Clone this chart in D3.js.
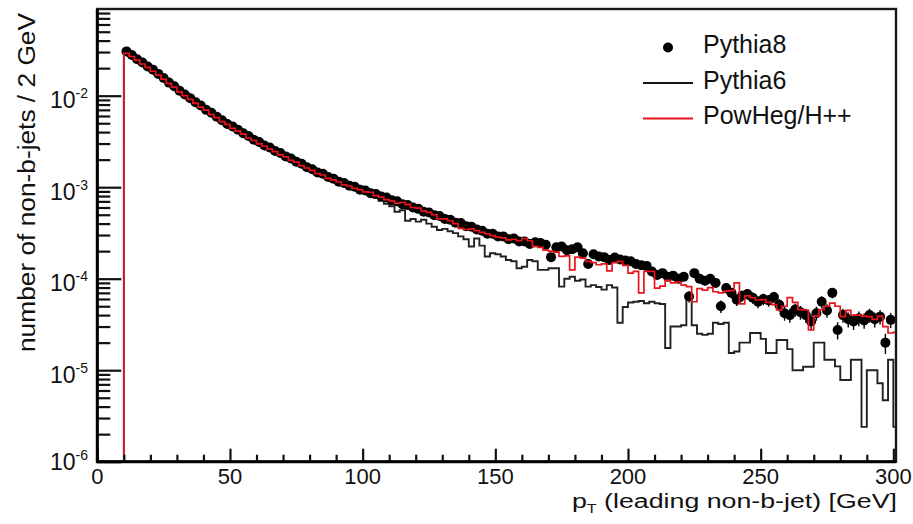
<!DOCTYPE html>
<html><head><meta charset="utf-8">
<script src="https://cdn.jsdelivr.net/npm/d3@7"></script>
<style>
body{margin:0;background:#fff}
svg text{font-family:"Liberation Sans",Arial,Helvetica,sans-serif;fill:#111}
</style>
</head><body>
<svg id="chart" width="913" height="524"></svg>
<script>
// ---- data: 2 GeV bins starting at 10 GeV ----
const binLowEdges = d3.range(10, 302, 2);
const pythia8 = [
3.05e-2,2.78e-2,2.50e-2,2.31e-2,2.08e-2,1.92e-2,1.73e-2,1.56e-2,1.39e-2,1.27e-2,
1.13e-2,1.03e-2,9.4e-3,8.5e-3,7.8e-3,7.0e-3,6.5e-3,5.9e-3,5.4e-3,4.9e-3,
4.6e-3,4.25e-3,3.88e-3,3.62e-3,3.30e-3,3.12e-3,2.86e-3,2.72e-3,2.49e-3,2.36e-3,
2.17e-3,2.06e-3,1.90e-3,1.80e-3,1.65e-3,1.57e-3,1.45e-3,1.40e-3,1.29e-3,1.24e-3,
1.15e-3,1.11e-3,1.04e-3,1.01e-3,9.4e-4,9.2e-4,8.6e-4,8.4e-4,7.9e-4,7.7e-4,
7.2e-4,7.0e-4,6.5e-4,6.4e-4,6.0e-4,5.8e-4,5.4e-4,5.3e-4,4.95e-4,4.85e-4,
4.5e-4,4.4e-4,4.1e-4,4.05e-4,3.75e-4,3.7e-4,3.45e-4,3.35e-4,3.1e-4,3.1e-4,
2.9e-4,2.9e-4,2.7e-4,2.75e-4,2.55e-4,2.55e-4,2.4e-4,2.5e-4,2.45e-4,2.35e-4,
1.72e-4,2.2e-4,2.25e-4,2.05e-4,2.1e-4,2.2e-4,1.9e-4,1.45e-4,1.85e-4,1.75e-4,
1.72e-4,1.6e-4,1.7e-4,1.62e-4,1.58e-4,1.55e-4,1.45e-4,1.4e-4,1.38e-4,1.2e-4,
1.1e-4,1.15e-4,1.05e-4,1.08e-4,1.0e-4,1.05e-4,6.4e-5,1.15e-4,1.0e-4,9.5e-5,
1.0e-4,9.0e-5,5.0e-5,7.9e-5,7.0e-5,5.9e-5,6.5e-5,6.8e-5,6.2e-5,5.6e-5,
6.0e-5,5.8e-5,6.3e-5,5.2e-5,4.2e-5,4.0e-5,4.6e-5,4.3e-5,4.0e-5,3.4e-5,
4.2e-5,5.6e-5,4.5e-5,7.0e-5,2.75e-5,4.0e-5,3.6e-5,3.4e-5,3.7e-5,3.5e-5,
4.0e-5,3.6e-5,3.85e-5,2.0e-5,3.55e-5,3.5e-5];
const pythia6 = [
2.95e-2,2.7e-2,2.48e-2,2.25e-2,2.05e-2,1.88e-2,1.7e-2,1.53e-2,1.38e-2,1.23e-2,
1.12e-2,1.01e-2,9.2e-3,8.4e-3,7.6e-3,6.9e-3,6.3e-3,5.8e-3,5.3e-3,4.8e-3,
4.45e-3,4.15e-3,3.78e-3,3.5e-3,3.2e-3,3.02e-3,2.78e-3,2.63e-3,2.42e-3,2.28e-3,
2.12e-3,1.98e-3,1.85e-3,1.74e-3,1.6e-3,1.52e-3,1.43e-3,1.33e-3,1.27e-3,1.18e-3,
1.12e-3,1.05e-3,1.0e-3,9.6e-4,9.0e-4,8.7e-4,8.2e-4,7.7e-4,7.1e-4,6.6e-4,
6.2e-4,5.4e-4,5.6e-4,4.3e-4,4.5e-4,4.2e-4,4.4e-4,4.0e-4,3.7e-4,3.4e-4,
3.5e-4,3.3e-4,3.15e-4,2.9e-4,2.7e-4,2.25e-4,2.75e-4,2.3e-4,1.75e-4,1.9e-4,
1.85e-4,1.75e-4,1.6e-4,1.55e-4,1.3e-4,1.35e-4,1.6e-4,1.55e-4,1.25e-4,1.25e-4,
1.3e-4,1.3e-4,8.2e-5,1.0e-4,1.05e-4,9.5e-5,9.8e-5,8.2e-5,8.5e-5,8.1e-5,
7.6e-5,8.5e-5,8.0e-5,3.3e-5,4.9e-5,5.5e-5,5.6e-5,5.7e-5,5.4e-5,5.6e-5,
5.4e-5,5.3e-5,1.75e-5,3.0e-5,3.0e-5,3.1e-5,5.85e-5,3.1e-5,2.5e-5,2.43e-5,
2.5e-5,3.3e-5,3.2e-5,3.3e-5,1.54e-5,1.6e-5,2.0e-5,2.0e-5,2.55e-5,2.55e-5,
2.2e-5,1.54e-5,1.54e-5,2.14e-5,2.14e-5,1.7e-5,1.0e-5,1.0e-5,1.09e-5,1.09e-5,
2.0e-5,2.0e-5,1.3e-5,1.3e-5,1.1e-5,7.8e-6,7.8e-6,1.3e-5,1.3e-5,2.4e-6,
1.0e-5,1.0e-5,7.2e-6,4.7e-6,1.3e-5,2.4e-6];
const powhegHpp = [
2.9e-2,2.68e-2,2.45e-2,2.22e-2,2.04e-2,1.85e-2,1.68e-2,1.52e-2,1.36e-2,1.24e-2,
1.10e-2,1.00e-2,9.1e-3,8.3e-3,7.5e-3,6.95e-3,6.2e-3,5.75e-3,5.2e-3,4.85e-3,
4.4e-3,4.1e-3,3.8e-3,3.45e-3,3.25e-3,2.98e-3,2.82e-3,2.6e-3,2.45e-3,2.25e-3,
2.15e-3,1.96e-3,1.88e-3,1.72e-3,1.62e-3,1.53e-3,1.41e-3,1.36e-3,1.25e-3,1.20e-3,
1.14e-3,1.06e-3,1.03e-3,9.7e-4,9.4e-4,8.9e-4,8.8e-4,8.1e-4,7.8e-4,7.3e-4,
7.1e-4,6.7e-4,6.8e-4,6.5e-4,6.0e-4,5.9e-4,5.5e-4,5.3e-4,5.0e-4,4.5e-4,
4.5e-4,4.3e-4,4.0e-4,3.55e-4,3.45e-4,3.5e-4,3.35e-4,3.2e-4,3.1e-4,2.95e-4,
2.85e-4,2.8e-4,2.65e-4,2.7e-4,2.6e-4,2.75e-4,2.6e-4,2.25e-4,2.2e-4,2.05e-4,
2.0e-4,1.95e-4,1.75e-4,1.78e-4,1.25e-4,1.72e-4,1.68e-4,1.55e-4,1.5e-4,1.42e-4,
1.45e-4,1.22e-4,1.5e-4,1.55e-4,1.4e-4,1.15e-4,1.2e-4,7.0e-5,1.2e-4,1.2e-4,
7.9e-5,8.3e-5,9.6e-5,9.0e-5,9.2e-5,8.5e-5,8.2e-5,5.6e-5,7.8e-5,7.5e-5,
8.0e-5,7.2e-5,7.0e-5,7.3e-5,7.4e-5,9.0e-5,5.3e-5,6.5e-5,6.2e-5,5.85e-5,
5.9e-5,5.5e-5,5.2e-5,4.55e-5,5.0e-5,6.2e-5,5.5e-5,4.6e-5,4.55e-5,2.75e-5,
3.9e-5,4.6e-5,5.0e-5,5.4e-5,5.0e-5,3.85e-5,4.5e-5,4.0e-5,4.0e-5,3.9e-5,
3.85e-5,3.6e-5,3.9e-5,3.0e-5,2.55e-5,2.6e-5];
const binWidth = 2;
const xTickValues = [0,50,100,150,200,250,300];
const yDecades = [1e-6,1e-5,1e-4,1e-3,1e-2];
const yDecadeExponents = ["-6","-5","-4","-3","-2"];
const legendLabels = ["Pythia8","Pythia6","PowHeg/H++"];
const xTitleMain = "p", xTitleSub = "T", xTitleRest = " (leading non-b-jet) [GeV]";
const yTitle = "number of non-b-jets / 2 GeV";
const statScale = 8e5; // effective events per unit for P8 stat. errors

// ---- layout ----
const svg = d3.select("#chart");
const L = 97.3, R = 896, T = 9, B = 461.7;
const x = d3.scaleLinear().domain([0, 301]).range([L, R]);
const y = d3.scaleLog().domain([1e-6, 0.0886]).range([B, T]);
const yMin = y.domain()[0];

svg.append("defs").append("clipPath").attr("id","plot")
  .append("rect").attr("x",L).attr("y",T).attr("width",R-L).attr("height",B-T);

const g = svg.append("g").attr("clip-path","url(#plot)");

function histPoints(vals){
  const pts = [[0, yMin],[binLowEdges[0], yMin]];
  vals.forEach((v,i)=>{
    const lo = binLowEdges[i], vv = Math.max(v, yMin);
    pts.push([lo, vv]); pts.push([lo+binWidth, vv]);
  });
  return pts;
}
const line = d3.line().x(d=>x(d[0])).y(d=>y(d[1]));

// Pythia6 histogram
g.append("path").attr("d", line(histPoints(pythia6)))
  .attr("fill","none").attr("stroke","#222").attr("stroke-width",1.9);

// Pythia8 markers with stat error bars
const p8 = pythia8.map((v,i)=>({c: binLowEdges[i]+binWidth/2, v, e: v/Math.sqrt(v*statScale)}))
  .filter(d=>d.c < x.domain()[1]);
g.selectAll("line.err").data(p8).enter().append("line").attr("class","err")
  .attr("x1",d=>x(d.c)).attr("x2",d=>x(d.c))
  .attr("y1",d=>y(d.v+d.e)).attr("y2",d=>y(Math.max(d.v-d.e, yMin)))
  .attr("stroke","#000").attr("stroke-width",1.4);
g.selectAll("circle.p8").data(p8).enter().append("circle").attr("class","p8")
  .attr("cx",d=>x(d.c)).attr("cy",d=>y(d.v)).attr("r",5).attr("fill","#000");

// PowHeg histogram
g.append("path").attr("d", line(histPoints(powhegHpp)))
  .attr("fill","none").attr("stroke","#e8141b").attr("stroke-width",1.7);

// ---- axes ----
const yMajor = d3.axisLeft(y).tickValues(yDecades).tickSize(-24).tickFormat("");
const yMinorVals = y.ticks().filter(t => !yDecades.some(d => Math.abs(t/d-1) < 1e-6));
const yMinor = d3.axisLeft(y).tickValues(yMinorVals).tickSize(-13).tickFormat("");
const xMajor = d3.axisBottom(x).tickValues(xTickValues).tickSize(-13).tickFormat("");
const xMinorVals = x.ticks(30).filter(t => t % 50 !== 0);
const xMinor = d3.axisBottom(x).tickValues(xMinorVals).tickSize(-7).tickFormat("");

function styleAxis(sel){
  sel.select(".domain").remove();
  sel.selectAll(".tick line").attr("stroke","#111").attr("stroke-width",2.2);
}
svg.append("g").attr("transform",`translate(${L},0)`).call(yMajor).call(styleAxis);
svg.append("g").attr("transform",`translate(${L},0)`).call(yMinor).call(styleAxis);
svg.append("g").attr("transform",`translate(0,${B})`).call(xMajor).call(styleAxis);
svg.append("g").attr("transform",`translate(0,${B})`).call(xMinor).call(styleAxis);

// frame
svg.append("rect").attr("x",L).attr("y",T).attr("width",R-L).attr("height",B-T)
  .attr("fill","none").attr("stroke","#1a1a1a").attr("stroke-width",2.4);
svg.append("line").attr("x1",L).attr("x2",L).attr("y1",T).attr("y2",B+1)
  .attr("stroke","#000").attr("stroke-width",3);
svg.append("line").attr("x1",L-1).attr("x2",R).attr("y1",B).attr("y2",B)
  .attr("stroke","#000").attr("stroke-width",3);

// tick labels
svg.append("g").selectAll("text").data(xTickValues).enter().append("text")
  .attr("x",d=>x(d)).attr("y",484).attr("text-anchor","middle")
  .attr("font-size",22).text(d=>d);

const yl = svg.append("g").selectAll("text").data(yDecades).enter().append("text")
  .attr("x",88).attr("y",(d,i)=> y(d) + (i===0 ? 8 : 12.5))
  .attr("text-anchor","end").attr("font-size",23);
yl.append("tspan").text("10");
yl.append("tspan").attr("dy",-10).attr("font-size",14).text((d,i)=>yDecadeExponents[i]);

// axis titles
const xt = svg.append("text").attr("x",572).attr("y",508).attr("font-size",20)
  .attr("textLength",325).attr("lengthAdjust","spacingAndGlyphs");
xt.append("tspan").text(xTitleMain);
xt.append("tspan").attr("dy",5).attr("font-size",12).text(xTitleSub);
xt.append("tspan").attr("dy",-5).text(xTitleRest);

svg.append("text").attr("transform","translate(35,352) rotate(-90)")
  .attr("font-size",23).attr("textLength",339).attr("lengthAdjust","spacingAndGlyphs")
  .text(yTitle);

// legend
const leg = svg.append("g");
const legY = [47.5, 83, 118.5];
leg.append("circle").attr("cx",668).attr("cy",legY[0]).attr("r",5).attr("fill","#000");
leg.append("line").attr("x1",643).attr("x2",693).attr("y1",legY[1]).attr("y2",legY[1])
  .attr("stroke","#151515").attr("stroke-width",2);
leg.append("line").attr("x1",643).attr("x2",693).attr("y1",legY[2]).attr("y2",legY[2])
  .attr("stroke","#e8141b").attr("stroke-width",2);
leg.selectAll("text").data(legendLabels).enter().append("text")
  .attr("x",703).attr("y",(d,i)=>legY[i]+5.5).attr("font-size",25).text(d=>d);
</script>
</body></html>
